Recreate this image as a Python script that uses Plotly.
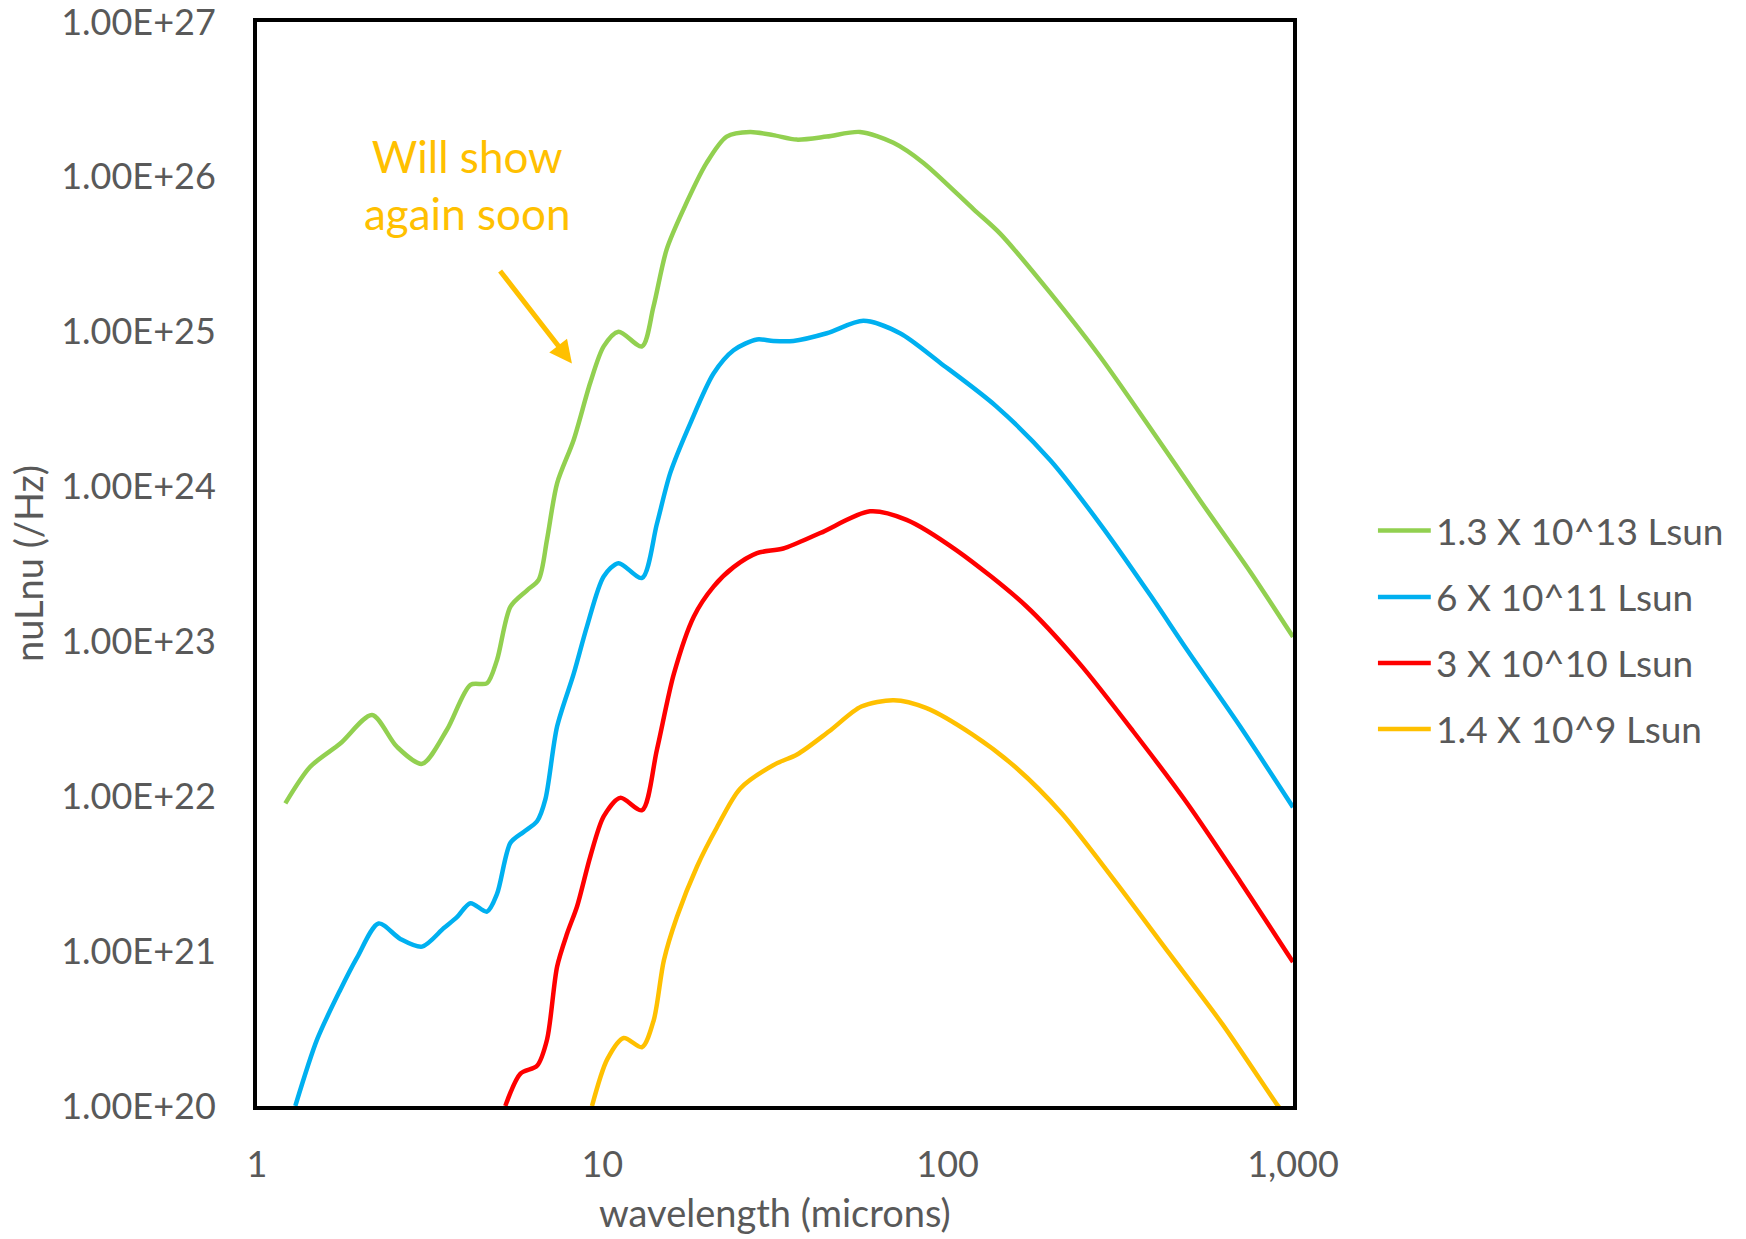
import plotly.graph_objects as go

# ---------------- data (wavelength in microns, nuLnu in /Hz) ----------------
series_names = ["1.3 X 10^13 Lsun", "6 X 10^11 Lsun", "3 X 10^10 Lsun", "1.4 X 10^9 Lsun"]
series_colors = ["#92D050", "#00B0F0", "#FF0000", "#FFC000"]

green_wl = [1.208, 1.426, 1.742, 2.153, 2.541, 3.006, 3.548, 4.150, 4.634, 4.955, 5.420, 6.053,
            6.546, 6.918, 7.396, 8.260, 9.226, 10.09, 11.14, 13.03, 14.06, 15.35, 17.18, 20.04,
            22.91, 26.79, 31.26, 36.56, 44.67, 55.72, 69.66, 85.11, 118.9, 141.9, 198.2, 276.1,
            385.5, 538.3, 751.6, 1000.0]
green_val = [9.0e21, 1.55e22, 2.19e22, 3.35e22, 2.09e22, 1.62e22, 2.69e22, 5.25e22, 5.37e22, 7.59e22,
             1.68e23, 2.14e23, 2.51e23, 4.57e23, 1.05e24, 2.0e24, 4.68e24, 8.04e24, 1.0e25, 8.04e24,
             1.45e25, 3.39e25, 6.17e25, 1.23e26, 1.82e26, 1.95e26, 1.86e26, 1.74e26, 1.82e26, 1.95e26,
             1.66e26, 1.23e26, 6.17e25, 4.3e25, 1.78e25, 6.92e24, 2.40e24, 8.13e23, 2.82e23, 1.07e23]

blue_wl = [1.291, 1.493, 1.742, 1.950, 2.249, 2.600, 3.006, 3.475, 3.793, 4.150, 4.634, 4.955,
           5.420, 5.916, 6.471, 6.839, 7.396, 8.260, 9.036, 10.09, 11.14, 13.03, 14.39, 15.74,
           17.99, 20.99, 23.99, 28.05, 31.26, 35.73, 44.67, 57.02, 72.78, 95.06, 138.0, 198.2,
           276.1, 385.5, 492.0, 703.1, 1000.0]
blue_val = [1.0e20, 2.69e20, 5.62e20, 9.12e20, 1.51e21, 1.20e21, 1.07e21, 1.41e21, 1.66e21, 2.04e21,
            1.80e21, 2.34e21, 5.01e21, 5.89e21, 6.9e21, 9.55e21, 2.82e22, 6.17e22, 1.26e23, 2.63e23,
            3.20e23, 2.57e23, 5.75e23, 1.23e24, 2.57e24, 5.37e24, 7.59e24, 8.91e24, 8.71e24, 8.71e24,
            9.77e24, 1.175e25, 9.77e24, 6.31e24, 3.31e24, 1.48e24, 5.75e23, 2.0e23, 8.9e22, 2.82e22,
            8.5e21]

red_wl = [5.236, 5.794, 6.471, 6.918, 7.396, 7.907, 8.453, 9.226, 10.09, 11.27, 13.03, 14.39,
          16.11, 18.41, 20.99, 23.99, 28.05, 33.42, 42.76, 59.57, 76.03, 105.9, 168.3,
          240.4, 344.4, 492.0, 703.1, 1000.0]
red_val = [1.0e20, 1.62e20, 1.82e20, 2.69e20, 7.94e20, 1.30e21, 1.95e21, 4.07e21, 7.41e21, 9.77e21,
           8.13e21, 2.0e22, 6.17e22, 1.45e23, 2.26e23, 3.02e23, 3.72e23, 3.98e23, 5.01e23, 6.92e23,
           6.10e23, 3.89e23, 1.70e23, 7.24e22, 2.63e22, 9.12e21, 2.82e21, 8.5e20]

yellow_wl = [9.333, 10.33, 11.53, 13.03, 14.09, 15.07, 16.44, 18.79, 21.48, 25.06, 31.77, 36.64,
             45.39, 56.23, 69.82, 86.50, 117.8, 156.7, 213.8, 305.5, 436.5, 623.7, 891.3, 912.0]
yellow_val = [1.0e20, 2.0e20, 2.75e20, 2.40e20, 3.59e20, 8.71e20, 1.66e21, 3.51e21, 6.31e21, 1.12e22,
              1.62e22, 1.86e22, 2.63e22, 3.80e22, 4.17e22, 3.72e22, 2.51e22, 1.55e22, 7.76e21, 2.82e21,
              9.77e20, 3.39e20, 1.05e20, 9.8e19]

x_tickvals = [1, 10, 100, 1000]
x_ticktext = ["1", "10", "100", "1,000"]
y_tickvals = [1e20, 1e21, 1e22, 1e23, 1e24, 1e25, 1e26, 1e27]
y_ticktext = ["1.00E+20", "1.00E+21", "1.00E+22", "1.00E+23", "1.00E+24", "1.00E+25", "1.00E+26", "1.00E+27"]

x_title = "wavelength (microns)"
y_title = "nuLnu (/Hz)"
note_text = "Will show<br>again soon"

# ---------------- figure ----------------
FONT = "Lato"
GREY = "#595959"

fig = go.Figure()
all_x = [green_wl, blue_wl, red_wl, yellow_wl]
all_y = [green_val, blue_val, red_val, yellow_val]
for name, col, xs, ys in zip(series_names, series_colors, all_x, all_y):
    fig.add_trace(go.Scatter(x=xs, y=ys, mode="lines", name=name,
                             line=dict(color=col, width=4.5, shape="spline", smoothing=0.8),
                             showlegend=False))

# manual legend (swatch + label) to the right of the plot
leg_y = [0.531, 0.4696, 0.4087, 0.3478]
for name, col, yy in zip(series_names, series_colors, leg_y):
    fig.add_shape(type="line", xref="paper", yref="paper", x0=1.082, x1=1.133, y0=yy, y1=yy,
                  line=dict(color=col, width=4.5))
    fig.add_annotation(xref="paper", yref="paper", x=1.136, y=yy, text=name, showarrow=False,
                       xanchor="left", yanchor="middle", font=dict(family=FONT, size=37, color=GREY))

# annotation text + arrow
fig.add_annotation(xref="paper", yref="paper", x=0.203, y=0.85, text=note_text, showarrow=False,
                   xanchor="center", yanchor="middle", align="center",
                   font=dict(family=FONT, size=44, color="#FFC000"))
fig.add_annotation(xref="paper", yref="paper", x=0.304, y=0.685, text="", showarrow=True,
                   ax=-73, ay=-94, arrowcolor="#FFC000", arrowwidth=5, arrowhead=2, arrowsize=0.9)

# axis titles
fig.add_annotation(xref="paper", yref="paper", x=0.5, y=-0.1205, text=x_title, showarrow=False,
                   xanchor="center", yanchor="bottom", font=dict(family=FONT, size=38, color=GREY))
fig.add_annotation(xref="paper", yref="paper", x=-0.221, y=0.5, text=y_title, showarrow=False,
                   textangle=-90, xanchor="center", yanchor="middle",
                   font=dict(family=FONT, size=38, color=GREY))

fig.update_layout(
    width=1746, height=1239,
    margin=dict(l=257, r=453, t=22, b=133, autoexpand=False),
    paper_bgcolor="white", plot_bgcolor="white",
    font=dict(family=FONT, color=GREY),
)
fig.update_xaxes(type="log", range=[0, 3], tickvals=x_tickvals, ticktext=x_ticktext,
                 showgrid=False, zeroline=False, showline=True, mirror=True, automargin=False,
                 ticklabeloverflow="allow",
                 linecolor="black", linewidth=4, ticks="", ticklabelstandoff=24,
                 tickfont=dict(family=FONT, size=36, color=GREY))
fig.update_yaxes(type="log", range=[20, 27], tickvals=y_tickvals, ticktext=y_ticktext,
                 showgrid=False, zeroline=False, showline=True, mirror=True, automargin=False,
                 ticklabeloverflow="allow",
                 linecolor="black", linewidth=4, ticks="", ticklabelstandoff=30,
                 tickfont=dict(family=FONT, size=36, color=GREY))

fig.write_html("out.html")
